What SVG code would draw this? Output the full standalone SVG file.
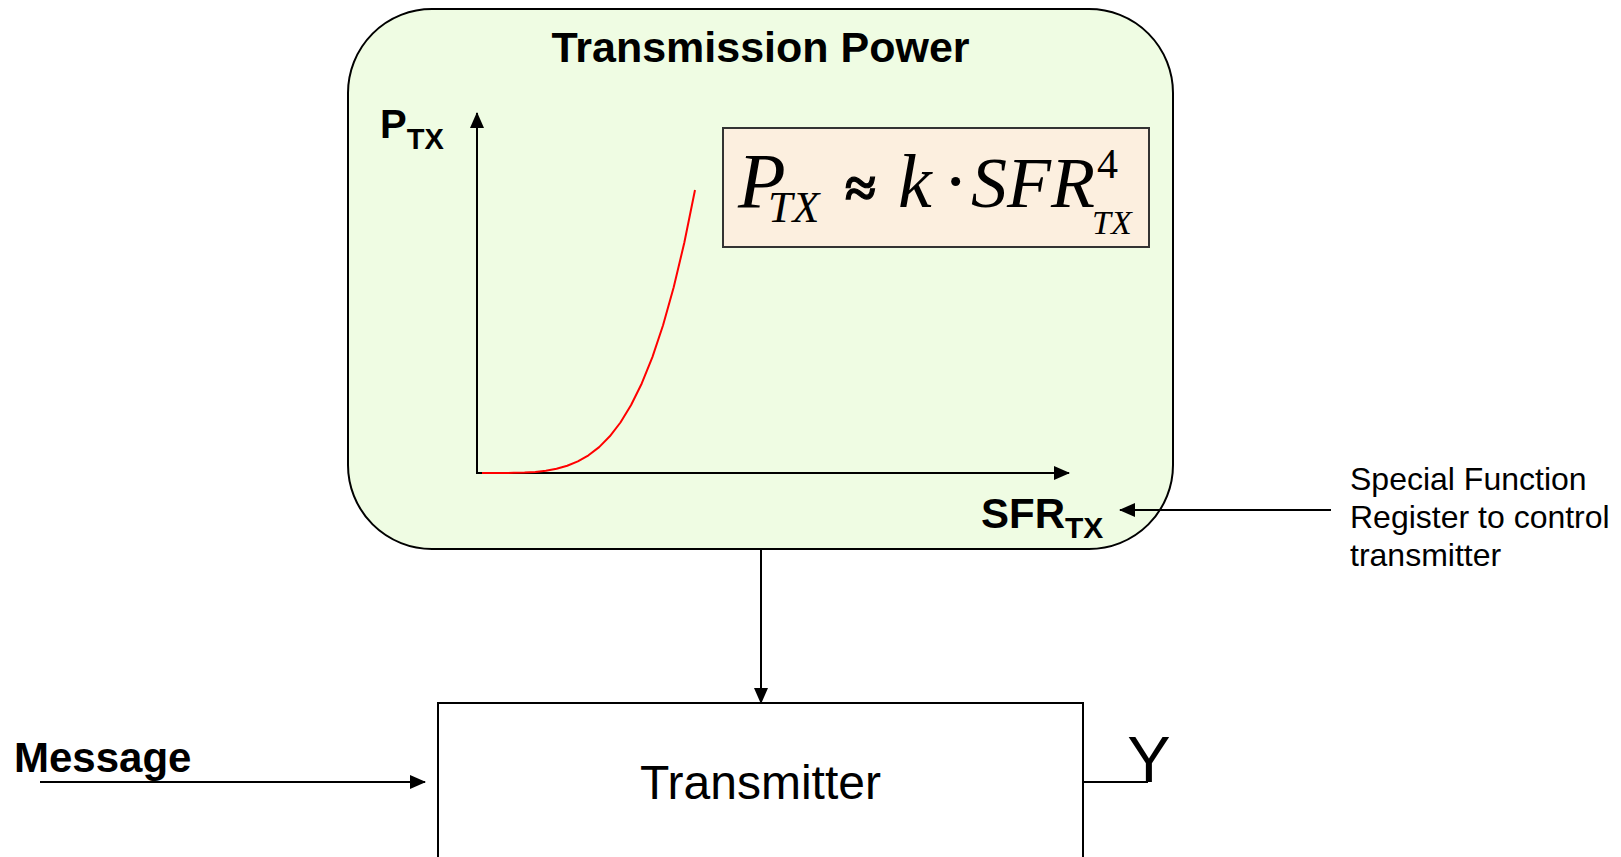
<svg xmlns="http://www.w3.org/2000/svg" width="1621" height="857" viewBox="0 0 1621 857">
<defs>
<marker id="ah" markerWidth="16" markerHeight="14" refX="15" refY="7" orient="auto" markerUnits="userSpaceOnUse">
<path d="M0,0 L16,7 L0,14 Z" fill="#000"/>
</marker>
<style>
.sans{font-family:"Liberation Sans",Arial,sans-serif;fill:#000}
.b{font-weight:bold}
.ser{font-family:"Liberation Serif","Times New Roman",serif;fill:#000}
.it{font-style:italic}
.ln{stroke:#000;stroke-width:2;fill:none}
</style>
</defs>
<rect width="1621" height="857" fill="#fff"/>
<g id="power">
<rect x="348" y="9" width="825" height="540" rx="84" ry="84" fill="#EFFCE3" stroke="#000" stroke-width="2"/>
<text class="sans b" x="760.5" y="62" font-size="43" text-anchor="middle">Transmission Power</text>
<text class="sans b" x="380" y="138" font-size="40">P<tspan font-size="29" dy="11">TX</tspan></text>
<text class="sans b" x="981" y="528" font-size="42">SFR<tspan font-size="30" dy="10">TX</tspan></text>
<line class="ln" x1="477" y1="473" x2="477" y2="113" marker-end="url(#ah)"/>
<line class="ln" x1="476" y1="473" x2="1069" y2="473" marker-end="url(#ah)"/>
<polyline fill="none" stroke="#F00" stroke-width="2" stroke-linejoin="round" points="482,473 492.65,473 503.3,472.97 513.95,472.86 524.6,472.55 535.25,471.9 545.9,470.71 556.55,468.75 567.2,465.76 577.85,461.4 588.5,455.31 599.15,447.1 609.8,436.32 620.45,422.5 631.1,405.05 641.75,383.46 652.4,357.08 663.05,325.27 673.7,287.32 684.35,242.5 695,190"/>
</g>
<g id="formula">
<rect x="723" y="128" width="426" height="119" fill="#FCEFDF" stroke="#333" stroke-width="2"/>
<text class="ser it" x="738" y="207" font-size="78">P<tspan x="768" y="222" font-size="44">TX</tspan></text>
<text class="ser b" x="845" y="207" font-size="56" stroke="#000" stroke-width="1.2">≈</text>
<text class="ser it" x="898" y="207" font-size="76">k</text>
<text class="ser" x="943" y="207" font-size="76">·</text>
<text class="ser it" x="971" y="207" font-size="72">SFR</text>
<text class="ser" x="1097" y="178" font-size="42">4</text>
<text class="ser it" x="1092" y="234" font-size="34">TX</text>
</g>
<g id="sfr-note">
<text class="sans" x="1350" y="490" font-size="32">Special Function</text>
<text class="sans" x="1350" y="528" font-size="32">Register to control</text>
<text class="sans" x="1350" y="566" font-size="32">transmitter</text>
</g>
<g id="transmitter">
<rect x="438" y="703" width="645" height="170" fill="#fff" stroke="#000" stroke-width="2"/>
<text class="sans" x="760.5" y="799" font-size="48" text-anchor="middle">Transmitter</text>
</g>
<g id="message">
<text class="sans b" x="14" y="772" font-size="42">Message</text>
</g>
<g id="output">
<text class="sans" x="1149" y="782" font-size="65" text-anchor="middle">Y</text>
</g>
<g id="connectors">
<line class="ln" x1="1331" y1="510" x2="1120" y2="510" marker-end="url(#ah)"/>
<line class="ln" x1="761" y1="549" x2="761" y2="703" marker-end="url(#ah)"/>
<line class="ln" x1="40" y1="782" x2="425" y2="782" marker-end="url(#ah)"/>
<polyline class="ln" points="1083,782 1148,782"/>
</g>
</svg>
